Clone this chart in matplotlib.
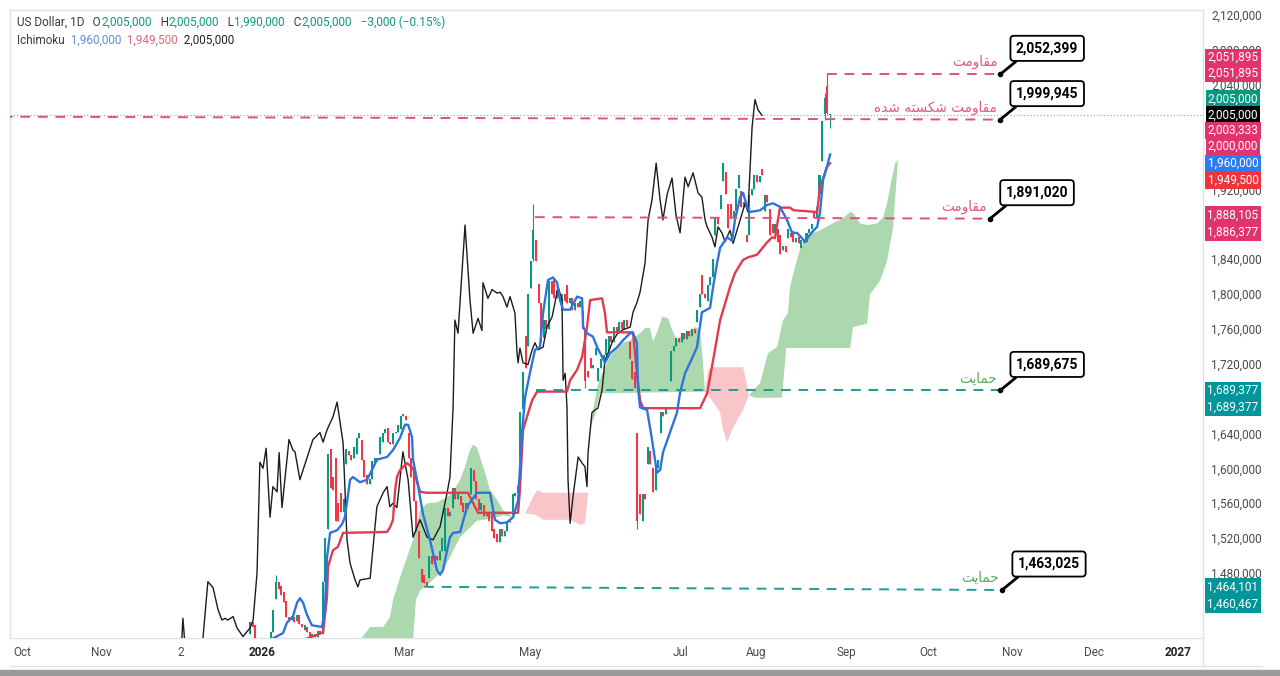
import numpy as np
import matplotlib.pyplot as plt
from matplotlib.lines import Line2D
from matplotlib.patches import Rectangle

plt.rcParams['font.family'] = ['Roboto', 'DejaVu Sans']

# ---- daily candles, price in thousands, bar 0 = first bar on screen ----
opens = [1410, 1424, 1420, 1396, 1390, 1385, 1392, 1388, 1395, 1412,
         1450, 1470, 1465, 1458, 1448, 1430, 1426, 1430, 1425, 1432,
         1422, 1415, 1418, 1412, 1407, 1410, 1406, 1414, 1410, 1470,
         1530, 1622, 1590, 1612, 1560, 1572, 1550, 1605, 1620, 1615,
         1612, 1617, 1635, 1632, 1610, 1592, 1582, 1588, 1605, 1612,
         1617, 1630, 1640, 1646, 1630, 1628, 1640, 1642, 1645, 1660,
         1660, 1640, 1612, 1595, 1562, 1528, 1485, 1478, 1470, 1474,
         1500, 1490, 1500, 1495, 1505, 1505, 1555, 1545, 1555, 1577,
         1565, 1568, 1560, 1550, 1560, 1570, 1598, 1585, 1565, 1552,
         1558, 1545, 1550, 1550, 1530, 1525, 1515, 1530, 1522, 1528,
         1540, 1547, 1568, 1572, 1608, 1668, 1752, 1740, 1807, 1840,
         1862, 1812, 1790, 1750, 1770, 1760, 1815, 1818, 1795, 1805,
         1780, 1800, 1810, 1790, 1795, 1782, 1790, 1785, 1780, 1757,
         1712, 1726, 1715, 1730, 1700, 1715, 1725, 1730, 1735, 1752,
         1745, 1762, 1755, 1768, 1760, 1770, 1745, 1723, 1710, 1640,
         1570, 1540, 1570, 1605, 1620, 1600, 1575, 1600, 1640, 1665,
         1662, 1670, 1700, 1735, 1740, 1750, 1745, 1755, 1748, 1758,
         1752, 1760, 1768, 1785, 1822, 1800, 1792, 1810, 1820, 1868,
         1887, 1898, 1930, 1940, 1903, 1903, 1887, 1895, 1921, 1918,
         1900, 1868, 1868, 1914, 1920, 1937, 1928, 1943, 1895, 1914,
         1898, 1880, 1870, 1875, 1868, 1850, 1855, 1864, 1870, 1872,
         1860, 1865, 1853, 1862, 1860, 1870, 1874, 1895, 1887, 1915,
         1952, 2006, 2038, 2005]
closes = [1424, 1418, 1396, 1390, 1385, 1392, 1388, 1395, 1412, 1438,
          1470, 1462, 1455, 1447, 1430, 1426, 1431, 1424, 1432, 1422,
          1418, 1420, 1412, 1407, 1410, 1406, 1414, 1410, 1470, 1520,
          1617, 1578, 1575, 1540, 1540, 1550, 1565, 1622, 1615, 1610,
          1625, 1635, 1640, 1610, 1590, 1582, 1588, 1608, 1612, 1608,
          1636, 1640, 1645, 1630, 1628, 1640, 1642, 1650, 1660, 1662,
          1655, 1612, 1590, 1562, 1528, 1497, 1470, 1468, 1465, 1500,
          1490, 1500, 1495, 1505, 1520, 1555, 1545, 1550, 1577, 1565,
          1570, 1558, 1550, 1560, 1555, 1600, 1585, 1565, 1552, 1560,
          1545, 1550, 1540, 1528, 1520, 1515, 1530, 1522, 1528, 1540,
          1538, 1570, 1572, 1580, 1665, 1710, 1715, 1800, 1838, 1873,
          1838, 1790, 1745, 1770, 1760, 1815, 1800, 1795, 1805, 1800,
          1800, 1792, 1790, 1795, 1782, 1790, 1785, 1792, 1760, 1700,
          1705, 1715, 1718, 1738, 1715, 1725, 1730, 1748, 1752, 1745,
          1762, 1755, 1768, 1760, 1770, 1762, 1725, 1702, 1692, 1540,
          1548, 1570, 1565, 1625, 1605, 1573, 1600, 1610, 1665, 1660,
          1670, 1668, 1735, 1740, 1750, 1745, 1755, 1748, 1758, 1752,
          1760, 1755, 1782, 1800, 1800, 1795, 1810, 1820, 1840, 1887,
          1880, 1914, 1950, 1915, 1876, 1887, 1895, 1920, 1937, 1900,
          1905, 1860, 1914, 1920, 1937, 1928, 1935, 1937, 1914, 1905,
          1868, 1870, 1880, 1860, 1846, 1855, 1848, 1875, 1865, 1860,
          1864, 1858, 1862, 1858, 1870, 1874, 1880, 1887, 1900, 1937,
          1998, 2025, 2008, 2005]
# wicks that stick out of the body
wick_bars = [10, 109, 129, 149, 221, 222, 223]
wick_highs = [1478, 1903, 1757, 1640, 2030, 2052, 2005]
wick_lows = [1450, 1838, 1692, 1530, 2000, 2006, 1990]

# ---- ichimoku lines, (bar, price) ----
tenkan = [(5, 1398), (8.8, 1405), (12.7, 1411), (14.2, 1423), (16.5, 1430), (18.1, 1446), (19.2, 1451),
          (20.4, 1446), (21.9, 1432), (23.8, 1420), (25.8, 1419), (27.7, 1418), (28.8, 1438), (29.6, 1497),
          (30.8, 1526), (33.5, 1529), (35.4, 1536), (36.5, 1544), (38.5, 1587), (39.6, 1590), (42.3, 1584),
          (45, 1587), (46.9, 1598), (48.8, 1610), (52.7, 1613), (55, 1621), (57.7, 1635), (59.6, 1650),
          (60.8, 1650), (62.3, 1636), (62.7, 1610), (64.2, 1587), (66.5, 1548), (69.2, 1518), (71.9, 1483),
          (73.1, 1478), (74.2, 1483), (75.8, 1506), (76.9, 1521), (78.1, 1526), (80.8, 1527), (83.5, 1556),
          (87.3, 1572), (92.3, 1572), (94.2, 1541), (96.2, 1537), (98.8, 1538), (101.2, 1544), (103.1, 1563),
          (104.6, 1641), (105.8, 1682), (107.7, 1710), (109.6, 1736), (111.5, 1739), (112.7, 1778),
          (114.6, 1816), (116.5, 1819), (118.1, 1813), (119.2, 1793), (120.4, 1782), (123.1, 1782),
          (125.8, 1797), (127.7, 1795), (128.1, 1762), (129.6, 1755), (131.9, 1751), (133.5, 1739),
          (135.4, 1728), (136.5, 1721), (138.5, 1732), (141.2, 1739), (143.5, 1747), (146.2, 1755),
          (147.3, 1755), (148.8, 1744), (149.2, 1693), (150, 1670), (152.7, 1667), (154.6, 1633),
          (156.5, 1595), (157.7, 1598), (158.8, 1618), (161.5, 1641), (164.2, 1664), (165.4, 1687),
          (167.3, 1709), (169.2, 1721), (171.9, 1739), (173.8, 1779), (176.9, 1784), (178.1, 1808),
          (179.6, 1835), (180.8, 1853), (183.5, 1865), (185.4, 1861), (186.5, 1885), (188.5, 1911),
          (189.6, 1916), (191.2, 1900), (192.3, 1894), (196.2, 1896), (198.8, 1902), (201.2, 1904),
          (203.8, 1900), (206.5, 1885), (208.5, 1870), (210.4, 1870), (212.3, 1864), (213.5, 1860),
          (214.6, 1865), (216.2, 1871), (218.1, 1877), (219.2, 1893), (220.4, 1931), (221.9, 1946),
          (223.1, 1960)]
kijun = [(18, 1398), (21.9, 1405), (25.8, 1409), (28.1, 1412), (29.6, 1452), (30, 1487), (31.9, 1506),
         (33.8, 1510), (35.8, 1526), (52.7, 1527), (53.8, 1532), (55, 1541), (55.8, 1575), (56.5, 1590),
         (57.7, 1598), (60.4, 1606), (62.7, 1600), (65.4, 1573), (68.1, 1572), (83.8, 1572), (87.7, 1549),
         (103.1, 1549), (103.8, 1575), (105, 1644), (106.5, 1659), (108.5, 1678), (110.4, 1688),
         (121.9, 1688), (123.1, 1701), (125.8, 1713), (127.7, 1728), (128.8, 1747), (129.6, 1762),
         (130.8, 1793), (135.4, 1795), (136.5, 1778), (137.3, 1756), (147.3, 1756), (148.8, 1709),
         (150, 1678), (151.2, 1669), (173.1, 1669), (175.8, 1686), (178.1, 1724), (180.8, 1770),
         (184.6, 1808), (186.5, 1824), (189.6, 1839), (191.5, 1842), (195, 1845), (198.8, 1859),
         (200.8, 1865), (201.9, 1864), (203.8, 1899), (207.7, 1899), (209, 1896), (218.1, 1894),
         (219.2, 1922), (221.9, 1946), (223.1, 1950)]
chikou = [(-27, 1395), (-26.2, 1405), (-25.8, 1428), (-25, 1397), (-19.2, 1397), (-18.1, 1405), (-16.2, 1470),
          (-14.2, 1463), (-12.3, 1438), (-10.8, 1426), (-9.6, 1428), (-8.5, 1426), (-6.5, 1430), (-5, 1417),
          (-2.7, 1407), (0, 1417), (1.2, 1426), (2.7, 1480), (3.8, 1607), (5, 1600), (6.2, 1623), (7.7, 1544),
          (8.8, 1579), (10.4, 1573), (11.2, 1618), (12.3, 1555), (15, 1633), (16.5, 1621), (17.3, 1619),
          (19.2, 1587), (20.4, 1598), (24.2, 1633), (26.9, 1641), (28.1, 1630), (29.6, 1644), (31.9, 1659),
          (33.5, 1676), (35.8, 1629), (37.3, 1518), (38.5, 1491), (40.4, 1472), (41.5, 1464), (42.3, 1472),
          (46.2, 1474), (48.8, 1556), (51.2, 1572), (52.7, 1579), (53.8, 1556), (55, 1560), (56.5, 1555),
          (58.8, 1619), (60.8, 1587), (62.7, 1521), (65.4, 1541), (68.1, 1521), (70.4, 1518), (73.1, 1533),
          (75.8, 1572), (76.9, 1590), (78.1, 1670), (78.8, 1770), (80, 1755), (82.7, 1879), (84.6, 1793),
          (85.8, 1755), (87.7, 1772), (89.2, 1758), (89.6, 1813), (91.5, 1795), (93.1, 1805), (95, 1801),
          (96.2, 1802), (97.3, 1797), (98.8, 1785), (100, 1797), (101.9, 1778), (102.7, 1732), (103.1, 1721),
          (103.8, 1738), (105, 1721), (106.9, 1719), (108.5, 1736), (109.6, 1744), (110.8, 1736),
          (112.7, 1739), (114.2, 1762), (116.2, 1774), (118.5, 1808), (120, 1793), (120.4, 1701),
          (121.2, 1709), (121.9, 1670), (122.3, 1587), (123.1, 1537), (124.2, 1567), (126.2, 1613),
          (127.7, 1606), (128.8, 1602), (129.6, 1579), (130, 1618), (131.5, 1664), (132.7, 1667),
          (133.8, 1669), (135.4, 1690), (136.5, 1724), (137.7, 1732), (139.6, 1747), (141.5, 1755),
          (143.5, 1759), (146.2, 1762), (147.3, 1779), (148.8, 1790), (150, 1802), (151.9, 1835),
          (153.1, 1885), (154.6, 1908), (156.2, 1950), (157.7, 1908), (158.8, 1885), (160.4, 1914),
          (162.3, 1933), (163.8, 1891), (165.4, 1870), (167.3, 1934), (168.5, 1923), (170.4, 1939),
          (172.3, 1916), (173.8, 1911), (175, 1885), (175.8, 1877), (177.7, 1865), (178.8, 1854),
          (180, 1877), (181.5, 1870), (182.7, 1860), (184.6, 1873), (185.8, 1858), (187.7, 1877),
          (190.4, 1904), (191.5, 1894), (193.1, 1992), (194.2, 2023), (195.4, 2011), (196.9, 2005)]

# ---- cloud pieces (span A edge / span B edge) ----
green1_a = [(40, 1395), (42.3, 1403), (46.2, 1418), (51.2, 1418), (53.8, 1429), (55, 1449), (57.7, 1475),
            (60.4, 1498), (62.7, 1518), (65.4, 1552), (68.1, 1560), (71.9, 1561), (75.8, 1567), (78.1, 1573),
            (80.8, 1587), (82.7, 1602), (84.6, 1621), (85.8, 1627), (87.3, 1624), (89.2, 1606), (91.2, 1587),
            (92.3, 1575), (95, 1564), (97.3, 1552), (101.2, 1544), (105.8, 1548)]
green1_b = [(40, 1390), (62.7, 1403), (63.8, 1449), (65.4, 1460), (69.2, 1469), (74.2, 1483), (76.9, 1498),
            (80.8, 1521), (84.6, 1532), (87.3, 1540), (92.3, 1542), (97.3, 1546), (101.2, 1544), (105.8, 1548)]
red1_b = [(105.8, 1548), (108.8, 1567), (110.4, 1575), (112.7, 1572), (129.6, 1572), (130, 1572)]
red1_a = [(105.8, 1548), (109.6, 1547), (112.7, 1541), (123.1, 1541), (126.9, 1535), (128.8, 1537), (130, 1572)]
green2_a = [(130.8, 1646), (132.3, 1673), (133.8, 1696), (135.4, 1709), (136.5, 1716), (138.5, 1728),
            (141.2, 1738), (143.5, 1744), (146.2, 1747), (148.1, 1751), (150, 1755), (151.9, 1761),
            (153.8, 1761), (155, 1745), (156.9, 1759), (158.5, 1774), (160.8, 1772), (162.3, 1759),
            (164.2, 1747), (165.4, 1751), (168.1, 1756), (171.2, 1762), (173.1, 1759), (174.2, 1721), (175, 1688)]
green2_b = [(130.8, 1646), (132.7, 1661), (134.6, 1686), (175, 1688)]
red2_b = [(175, 1688), (176.2, 1713), (178.1, 1716), (189.6, 1716), (190.8, 1701), (191.9, 1684)]
red2_a = [(175, 1688), (177.7, 1678), (180.8, 1664), (181.9, 1644), (183.5, 1630), (185.4, 1644),
          (187.3, 1655), (189.6, 1667), (191.9, 1684)]
green3_a = [(191.9, 1684), (196.2, 1698), (199.2, 1732), (202.7, 1739), (205, 1770), (206.9, 1778),
            (207.7, 1808), (209.6, 1831), (211.5, 1851), (213.5, 1862), (214.6, 1868), (219.2, 1873),
            (224.2, 1881), (228.1, 1887), (230.8, 1894), (231.9, 1893), (234.6, 1881), (237.3, 1879),
            (241.2, 1881), (243.5, 1888), (245, 1904), (246.2, 1923), (248.1, 1950), (249.2, 1954)]
green3_b = [(191.9, 1684), (194.2, 1681), (204.6, 1681), (206.2, 1738), (230.8, 1738), (231.9, 1762),
            (237.3, 1766), (238.5, 1800), (242.3, 1815), (245, 1838), (247.3, 1876), (249.2, 1954)]

# ---- drawings: support / resistance levels ----
moghavemat = '\uFE96\uFEE3\uFEED\uFE8E\uFED8\uFEE3'
shekaste_shode = '\uFEE9\uFEAA\uFEB7 \uFEEA\uFE98\uFEB4\uFEDC\uFEB7 ' + moghavemat
hemayat = '\uFE96\uFEF3\uFE8E\uFEE4\uFEA3'
level_start_bar = [222, -95, 109.6, 110, 67]
level_end_bar = [288.5, 288.5, 284.6, 288.5, 289.2]
level_start_price = [2051.895, 2003.333, 1888.105, 1689.377, 1464.101]
level_end_price = [2051.895, 2000.0, 1886.377, 1689.377, 1460.467]
level_is_support = [False, False, False, True, True]
level_names = [moghavemat, shekaste_shode, moghavemat, hemayat, hemayat]
callout_values = [2052399, 1999945, 1891020, 1689675, 1463025]

# ---- price scale tags ----
tag_prices = [2051.895, 2051.895, 2005.0, 2005.0, 2003.333, 2000.0, 1960.0, 1949.5,
              1888.105, 1886.377, 1689.377, 1689.377, 1464.101, 1460.467]
tag_colors = ['#e3336e', '#e3336e', '#089981', '#000000', '#e3336e', '#e3336e', '#2f7bf0', '#f0343f',
              '#e3336e', '#e3336e', '#00959a', '#00959a', '#00959a', '#00959a']
tag_shift = [-17, -1, -16, 0, 14, 27, 9, 17, -2, 14, 0, 17, 0, 14]  # pixels, to keep tags from overlapping

tick_bars = [-87.7, -57.3, -26.5, 4.6, 59.2, 107.7, 165.4, 194.6, 229.2, 260.8, 293.1, 324.6, 356.9]
tick_names = ['Oct', 'Nov', '2', '2026', 'Mar', 'May', 'Jul', 'Aug', 'Sep', 'Oct', 'Nov', 'Dec', '2027']
# levels that sit fully under a tag are not written
price_ticks = [2120, 2080, 2040, 1920, 1840, 1800, 1760, 1720, 1640, 1600, 1560, 1520, 1480]

UP, DOWN = '#089981', '#f23645'
PINK, TEAL = '#e0517c', '#1f9a96'

fig = plt.figure(figsize=(12.8, 6.76), dpi=100)
ax = fig.add_axes([10 / 1280, 38 / 676, 1193 / 1280, 628 / 676])
ax.set_xlim(-92.3, 366.5)
ax.set_ylim(1405.4, 2125.7)

# cloud
def cloud(a, b, color):
    xs = [p[0] for p in a] + [p[0] for p in b[::-1]]
    ys = [p[1] for p in a] + [p[1] for p in b[::-1]]
    ax.fill(xs, ys, color=color, lw=0, zorder=1)

for a, b in [(green1_a, green1_b), (green2_a, green2_b), (green3_a, green3_b)]:
    cloud(a, b, '#acd8ad')
for a, b in [(red1_a, red1_b), (red2_a, red2_b)]:
    cloud(a, b, '#f8c5c9')

# candles
o = np.array(opens, float)
c = np.array(closes, float)
x = np.arange(len(c))
hi = np.maximum(o, c)
lo = np.minimum(o, c)
for b, h, l in zip(wick_bars, wick_highs, wick_lows):
    hi[b] = max(hi[b], h)
    lo[b] = min(lo[b], l)
cols = np.where(c >= o, UP, DOWN)
ax.vlines(x, lo, hi, colors=cols, lw=0.8, zorder=3)
ax.bar(x, np.maximum(np.abs(c - o), 1.3), bottom=np.minimum(o, c), width=0.8, color=cols, lw=0, zorder=3)

# ichimoku lines
ax.plot(*zip(*chikou), color='#1c1c1c', lw=1.0, zorder=4)
ax.plot(*zip(*kijun), color='#e23a4f', lw=1.7, zorder=4)
ax.plot(*zip(*tenkan), color='#2f73e0', lw=1.7, zorder=4)

# last price line
ax.axhline(closes[-1], color='#6fb3ab', lw=0.8, ls=(0, (1, 2)), zorder=2)

# levels with labels and callouts
for i in range(len(level_names)):
    col = TEAL if level_is_support[i] else PINK
    txt_col = '#5cab5f' if level_is_support[i] else '#e0597f'
    ax.plot([level_start_bar[i], level_end_bar[i]], [level_start_price[i], level_end_price[i]],
            color=col, lw=1.4, dashes=(5, 4), zorder=5)
    ax.annotate(level_names[i], xy=(level_end_bar[i], level_end_price[i]), xytext=(-3, 5),
                textcoords='offset pixels', ha='right', va='bottom', fontsize=9.8,
                color=txt_col, family=['DejaVu Sans'], zorder=6)
    ax.plot(level_end_bar[i], level_end_price[i], 'o', ms=3, color='black', zorder=7)
    ax.annotate(f'{callout_values[i]:,}', xy=(level_end_bar[i], level_end_price[i]), xytext=(47, 26),
                textcoords='offset pixels', ha='center', va='center', fontsize=10, fontweight='bold',
                color='black',
                bbox=dict(boxstyle='round,pad=0.4,rounding_size=0.25', fc='white', ec='black', lw=1.3),
                arrowprops=dict(arrowstyle='-', color='black', lw=2.0, shrinkA=0, shrinkB=0, relpos=(0.12, 0.0)),
                zorder=8, annotation_clip=False)

# axes styling
for s in ax.spines.values():
    s.set_color('#e0e3eb')
    s.set_linewidth(1)
ax.yaxis.tick_right()
ax.set_yticks(price_ticks)
ax.set_yticklabels([f'{v * 1000:,}' for v in price_ticks])
ax.tick_params(axis='y', length=0, pad=6, labelsize=8.5, labelcolor='#4a4a4a')
ax.set_xticks(tick_bars)
ax.set_xticklabels(tick_names)
ax.tick_params(axis='x', length=0, pad=6, labelsize=8.5, labelcolor='#4a4a4a')
for lab in ax.get_xticklabels():
    if lab.get_text() in ('2026', '2027'):
        lab.set_fontweight('bold')
        lab.set_color('#222222')

# price tags on the scale
for p, col, sh in zip(tag_prices, tag_colors, tag_shift):
    ax.annotate(f'{round(p * 1000):,}', xy=(1, p), xycoords=ax.get_yaxis_transform(),
                xytext=(30, -sh), textcoords='offset pixels', ha='center', va='center',
                color='white', fontsize=8.5,
                bbox=dict(boxstyle='square,pad=0.19', fc=col, ec='none'),
                zorder=10, annotation_clip=False)

# header legend
def chain(parts, x0, y0):
    t = fig.text(x0, y0, parts[0][0], color=parts[0][1], fontsize=8.5, va='baseline')
    for s, col in parts[1:]:
        t = ax.annotate(s, xy=(1, 0), xycoords=t, ha='left', va='bottom', color=col,
                        fontsize=8.5, annotation_clip=False)

DARK, GRN = '#3a3a3a', '#0a9a7e'
chain([('US Dollar, 1D', DARK), ('   O', DARK), ('2,005,000', GRN), ('   H', DARK), ('2,005,000', GRN),
       ('   L', DARK), ('1,990,000', GRN), ('   C', DARK), ('2,005,000', GRN),
       ('   \u22123,000 (\u22120.15%)', GRN)], 17 / 1280, 1 - 26 / 676)
chain([('Ichimoku', DARK), ('  1,960,000', '#5b8fe0'), ('  1,949,500', '#e5647c'),
       ('  2,005,000', '#222222')], 17 / 1280, 1 - 44 / 676)

# frame pieces around the chart
fig.add_artist(Line2D([1203 / 1280, 1203 / 1280], [10 / 676, 38 / 676], color='#e0e3eb', lw=1))
fig.add_artist(Line2D([10 / 1280, 1262 / 1280], [10 / 676, 10 / 676], color='#e0e3eb', lw=1))
fig.add_artist(Rectangle((0, 0), 1, 6 / 676, color='#9a9a9a', transform=fig.transFigure))

fig.savefig('out.png', dpi=100)
